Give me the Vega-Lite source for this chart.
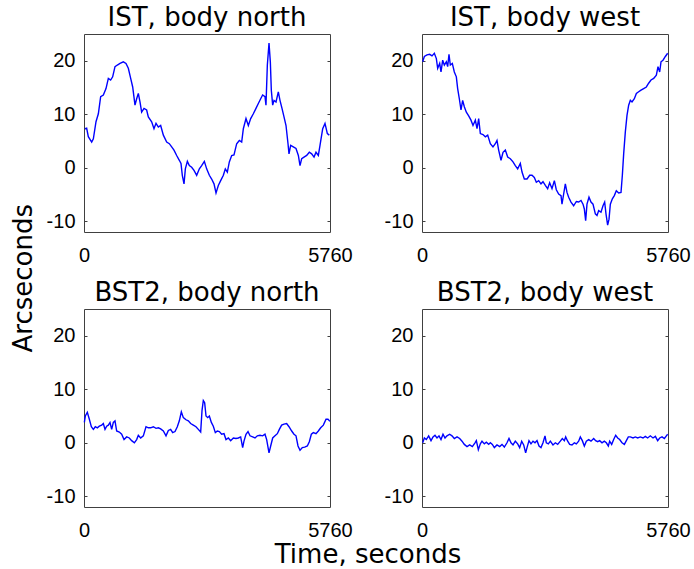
{
  "$schema": "https://vega.github.io/schema/vega-lite/v6.json",
  "background": "white",
  "padding": {"left": 10, "top": 4, "right": 5, "bottom": 4},
  "title": {"text": "Arcseconds", "orient": "left", "anchor": "middle", "font": "DejaVu Sans", "fontSize": 26, "fontWeight": "normal", "color": "black", "offset": 9, "dx": 8},
  "data": {"values": [
    {"panel":"IST, body north","t":23,"v":7.3},{"panel":"IST, body north","t":62,"v":7.4},{"panel":"IST, body north","t":101,"v":5.8},{"panel":"IST, body north","t":180,"v":4.8},{"panel":"IST, body north","t":219,"v":5.4},{"panel":"IST, body north","t":281,"v":8.6},{"panel":"IST, body north","t":336,"v":10.1},{"panel":"IST, body north","t":390,"v":13.3},{"panel":"IST, body north","t":453,"v":13.6},{"panel":"IST, body north","t":515,"v":14.8},{"panel":"IST, body north","t":570,"v":16.7},{"panel":"IST, body north","t":624,"v":16.4},{"panel":"IST, body north","t":671,"v":17},{"panel":"IST, body north","t":726,"v":18.9},{"panel":"IST, body north","t":781,"v":19.2},{"panel":"IST, body north","t":843,"v":19.5},{"panel":"IST, body north","t":921,"v":19.8},{"panel":"IST, body north","t":983,"v":19.5},{"panel":"IST, body north","t":1038,"v":18.6},{"panel":"IST, body north","t":1093,"v":16.7},{"panel":"IST, body north","t":1140,"v":15.1},{"panel":"IST, body north","t":1194,"v":11.7},{"panel":"IST, body north","t":1233,"v":12.9},{"panel":"IST, body north","t":1272,"v":13.9},{"panel":"IST, body north","t":1311,"v":12.3},{"panel":"IST, body north","t":1350,"v":10.4},{"panel":"IST, body north","t":1405,"v":11.1},{"panel":"IST, body north","t":1467,"v":10.8},{"panel":"IST, body north","t":1506,"v":9.5},{"panel":"IST, body north","t":1584,"v":8.6},{"panel":"IST, body north","t":1639,"v":7.3},{"panel":"IST, body north","t":1686,"v":8.3},{"panel":"IST, body north","t":1741,"v":7.6},{"panel":"IST, body north","t":1795,"v":7.9},{"panel":"IST, body north","t":1858,"v":6.1},{"panel":"IST, body north","t":1936,"v":4.8},{"panel":"IST, body north","t":1998,"v":4.5},{"panel":"IST, body north","t":2053,"v":3.9},{"panel":"IST, body north","t":2107,"v":3.3},{"panel":"IST, body north","t":2170,"v":2.3},{"panel":"IST, body north","t":2232,"v":1.4},{"panel":"IST, body north","t":2271,"v":0.8},{"panel":"IST, body north","t":2302,"v":-1.4},{"panel":"IST, body north","t":2342,"v":-3},{"panel":"IST, body north","t":2373,"v":-0.2},{"panel":"IST, body north","t":2420,"v":1.2},{"panel":"IST, body north","t":2466,"v":0.4},{"panel":"IST, body north","t":2521,"v":0.1},{"panel":"IST, body north","t":2576,"v":-0.5},{"panel":"IST, body north","t":2638,"v":-1.4},{"panel":"IST, body north","t":2701,"v":-0.2},{"panel":"IST, body north","t":2755,"v":0.4},{"panel":"IST, body north","t":2818,"v":1.2},{"panel":"IST, body north","t":2872,"v":-0.2},{"panel":"IST, body north","t":2935,"v":-1.4},{"panel":"IST, body north","t":2989,"v":-2.1},{"panel":"IST, body north","t":3044,"v":-3},{"panel":"IST, body north","t":3091,"v":-4.7},{"panel":"IST, body north","t":3145,"v":-3.3},{"panel":"IST, body north","t":3200,"v":-2.4},{"panel":"IST, body north","t":3263,"v":-1.4},{"panel":"IST, body north","t":3309,"v":-0.2},{"panel":"IST, body north","t":3356,"v":-0.8},{"panel":"IST, body north","t":3403,"v":1.1},{"panel":"IST, body north","t":3458,"v":2.3},{"panel":"IST, body north","t":3512,"v":2.4},{"panel":"IST, body north","t":3575,"v":4.5},{"panel":"IST, body north","t":3637,"v":5.1},{"panel":"IST, body north","t":3692,"v":4.8},{"panel":"IST, body north","t":3731,"v":7.3},{"panel":"IST, body north","t":3793,"v":9.2},{"panel":"IST, body north","t":3848,"v":7.9},{"panel":"IST, body north","t":3903,"v":9.2},{"panel":"IST, body north","t":3965,"v":10.1},{"panel":"IST, body north","t":4027,"v":11.1},{"panel":"IST, body north","t":4082,"v":12},{"panel":"IST, body north","t":4137,"v":12.9},{"panel":"IST, body north","t":4183,"v":13.6},{"panel":"IST, body north","t":4238,"v":13.3},{"panel":"IST, body north","t":4261,"v":11.7},{"panel":"IST, body north","t":4293,"v":19.2},{"panel":"IST, body north","t":4332,"v":23.3},{"panel":"IST, body north","t":4363,"v":19.8},{"panel":"IST, body north","t":4386,"v":14.5},{"panel":"IST, body north","t":4418,"v":11.7},{"panel":"IST, body north","t":4449,"v":12.6},{"panel":"IST, body north","t":4496,"v":12.3},{"panel":"IST, body north","t":4550,"v":14.2},{"panel":"IST, body north","t":4589,"v":12.6},{"panel":"IST, body north","t":4636,"v":11.1},{"panel":"IST, body north","t":4683,"v":9.5},{"panel":"IST, body north","t":4730,"v":7.9},{"panel":"IST, body north","t":4777,"v":4.5},{"panel":"IST, body north","t":4800,"v":2.6},{"panel":"IST, body north","t":4839,"v":4.2},{"panel":"IST, body north","t":4901,"v":3.9},{"panel":"IST, body north","t":4964,"v":3.6},{"panel":"IST, body north","t":5019,"v":2.3},{"panel":"IST, body north","t":5058,"v":0.4},{"panel":"IST, body north","t":5097,"v":1.7},{"panel":"IST, body north","t":5151,"v":2},{"panel":"IST, body north","t":5214,"v":2.3},{"panel":"IST, body north","t":5276,"v":2.9},{"panel":"IST, body north","t":5331,"v":2.6},{"panel":"IST, body north","t":5386,"v":2},{"panel":"IST, body north","t":5432,"v":2.9},{"panel":"IST, body north","t":5487,"v":2.3},{"panel":"IST, body north","t":5526,"v":4.2},{"panel":"IST, body north","t":5589,"v":7.3},{"panel":"IST, body north","t":5643,"v":8.3},{"panel":"IST, body north","t":5698,"v":6.4},{"panel":"IST, body north","t":5744,"v":6.1},

    {"panel":"IST, body west","t":16,"v":19.8},{"panel":"IST, body west","t":55,"v":20.8},{"panel":"IST, body west","t":117,"v":21.1},{"panel":"IST, body west","t":180,"v":21.2},{"panel":"IST, body west","t":234,"v":20.9},{"panel":"IST, body west","t":289,"v":21.4},{"panel":"IST, body west","t":336,"v":20.4},{"panel":"IST, body west","t":367,"v":18.6},{"panel":"IST, body west","t":414,"v":19.5},{"panel":"IST, body west","t":445,"v":17.9},{"panel":"IST, body west","t":484,"v":20.1},{"panel":"IST, body west","t":523,"v":19.2},{"panel":"IST, body west","t":570,"v":19.8},{"panel":"IST, body west","t":601,"v":18.9},{"panel":"IST, body west","t":632,"v":21.2},{"panel":"IST, body west","t":663,"v":19.2},{"panel":"IST, body west","t":710,"v":19.5},{"panel":"IST, body west","t":757,"v":17.9},{"panel":"IST, body west","t":804,"v":17},{"panel":"IST, body west","t":835,"v":14.8},{"panel":"IST, body west","t":874,"v":12.9},{"panel":"IST, body west","t":913,"v":10.8},{"panel":"IST, body west","t":952,"v":12.6},{"panel":"IST, body west","t":991,"v":11.4},{"panel":"IST, body west","t":1038,"v":10.4},{"panel":"IST, body west","t":1093,"v":9.7},{"panel":"IST, body west","t":1147,"v":8.9},{"panel":"IST, body west","t":1194,"v":7.9},{"panel":"IST, body west","t":1249,"v":8.9},{"panel":"IST, body west","t":1288,"v":7.3},{"panel":"IST, body west","t":1327,"v":9.2},{"panel":"IST, body west","t":1366,"v":6.4},{"panel":"IST, body west","t":1428,"v":6.2},{"panel":"IST, body west","t":1483,"v":5.8},{"panel":"IST, body west","t":1538,"v":6.1},{"panel":"IST, body west","t":1600,"v":4.5},{"panel":"IST, body west","t":1662,"v":3.9},{"panel":"IST, body west","t":1717,"v":4.5},{"panel":"IST, body west","t":1756,"v":5.1},{"panel":"IST, body west","t":1795,"v":3.3},{"panel":"IST, body west","t":1850,"v":1.4},{"panel":"IST, body west","t":1897,"v":2.9},{"panel":"IST, body west","t":1951,"v":3.3},{"panel":"IST, body west","t":2006,"v":2},{"panel":"IST, body west","t":2068,"v":1.7},{"panel":"IST, body west","t":2131,"v":1.1},{"panel":"IST, body west","t":2185,"v":0.4},{"panel":"IST, body west","t":2240,"v":-0.2},{"panel":"IST, body west","t":2302,"v":0.8},{"panel":"IST, body west","t":2342,"v":-0.8},{"panel":"IST, body west","t":2396,"v":-2.1},{"panel":"IST, body west","t":2459,"v":-2.1},{"panel":"IST, body west","t":2521,"v":-1.4},{"panel":"IST, body west","t":2576,"v":-1.4},{"panel":"IST, body west","t":2630,"v":-1.8},{"panel":"IST, body west","t":2677,"v":-2.7},{"panel":"IST, body west","t":2732,"v":-2.4},{"panel":"IST, body west","t":2786,"v":-3},{"panel":"IST, body west","t":2833,"v":-2.6},{"panel":"IST, body west","t":2888,"v":-3.3},{"panel":"IST, body west","t":2942,"v":-3.9},{"panel":"IST, body west","t":2989,"v":-2.8},{"panel":"IST, body west","t":3044,"v":-3.9},{"panel":"IST, body west","t":3099,"v":-2.4},{"panel":"IST, body west","t":3145,"v":-4.1},{"panel":"IST, body west","t":3200,"v":-4.9},{"panel":"IST, body west","t":3255,"v":-5.2},{"panel":"IST, body west","t":3278,"v":-6.8},{"panel":"IST, body west","t":3317,"v":-4.9},{"panel":"IST, body west","t":3356,"v":-3},{"panel":"IST, body west","t":3395,"v":-4.6},{"panel":"IST, body west","t":3434,"v":-5.5},{"panel":"IST, body west","t":3489,"v":-6.4},{"panel":"IST, body west","t":3551,"v":-7.1},{"panel":"IST, body west","t":3614,"v":-6.3},{"panel":"IST, body west","t":3668,"v":-6.4},{"panel":"IST, body west","t":3723,"v":-6.1},{"panel":"IST, body west","t":3770,"v":-6.8},{"panel":"IST, body west","t":3801,"v":-7.7},{"panel":"IST, body west","t":3832,"v":-9.9},{"panel":"IST, body west","t":3863,"v":-6.8},{"panel":"IST, body west","t":3910,"v":-5.5},{"panel":"IST, body west","t":3957,"v":-6.4},{"panel":"IST, body west","t":4004,"v":-6.8},{"panel":"IST, body west","t":4059,"v":-8.6},{"panel":"IST, body west","t":4098,"v":-8.9},{"panel":"IST, body west","t":4137,"v":-8},{"panel":"IST, body west","t":4191,"v":-8.3},{"panel":"IST, body west","t":4238,"v":-7.1},{"panel":"IST, body west","t":4277,"v":-6.4},{"panel":"IST, body west","t":4308,"v":-8.6},{"panel":"IST, body west","t":4347,"v":-10.7},{"panel":"IST, body west","t":4379,"v":-9.6},{"panel":"IST, body west","t":4410,"v":-6.8},{"panel":"IST, body west","t":4457,"v":-5.8},{"panel":"IST, body west","t":4503,"v":-5.2},{"panel":"IST, body west","t":4550,"v":-4.3},{"panel":"IST, body west","t":4605,"v":-4.7},{"panel":"IST, body west","t":4660,"v":-4.6},{"panel":"IST, body west","t":4691,"v":-1.4},{"panel":"IST, body west","t":4722,"v":2.6},{"panel":"IST, body west","t":4761,"v":6.7},{"panel":"IST, body west","t":4800,"v":9.8},{"panel":"IST, body west","t":4839,"v":11.7},{"panel":"IST, body west","t":4878,"v":12.6},{"panel":"IST, body west","t":4917,"v":12.3},{"panel":"IST, body west","t":4972,"v":12.9},{"panel":"IST, body west","t":5019,"v":13.9},{"panel":"IST, body west","t":5073,"v":14.2},{"panel":"IST, body west","t":5128,"v":14.5},{"panel":"IST, body west","t":5190,"v":14.8},{"panel":"IST, body west","t":5253,"v":15.1},{"panel":"IST, body west","t":5307,"v":15.8},{"panel":"IST, body west","t":5362,"v":16.4},{"panel":"IST, body west","t":5425,"v":16.7},{"panel":"IST, body west","t":5487,"v":17.3},{"panel":"IST, body west","t":5526,"v":18.9},{"panel":"IST, body west","t":5565,"v":17.9},{"panel":"IST, body west","t":5596,"v":19.8},{"panel":"IST, body west","t":5643,"v":20.1},{"panel":"IST, body west","t":5698,"v":20.8},{"panel":"IST, body west","t":5752,"v":21.4},

    {"panel":"BST2, body north","t":8,"v":3.8},{"panel":"BST2, body north","t":31,"v":5},{"panel":"BST2, body north","t":78,"v":5.7},{"panel":"BST2, body north","t":125,"v":4.4},{"panel":"BST2, body north","t":172,"v":3},{"panel":"BST2, body north","t":219,"v":2.5},{"panel":"BST2, body north","t":265,"v":3},{"panel":"BST2, body north","t":312,"v":2.8},{"panel":"BST2, body north","t":359,"v":3.1},{"panel":"BST2, body north","t":414,"v":3.3},{"panel":"BST2, body north","t":453,"v":3.6},{"panel":"BST2, body north","t":492,"v":2.5},{"panel":"BST2, body north","t":531,"v":3.1},{"panel":"BST2, body north","t":570,"v":3.3},{"panel":"BST2, body north","t":609,"v":3.8},{"panel":"BST2, body north","t":648,"v":2.5},{"panel":"BST2, body north","t":687,"v":3.8},{"panel":"BST2, body north","t":726,"v":4.1},{"panel":"BST2, body north","t":765,"v":2.2},{"panel":"BST2, body north","t":827,"v":2},{"panel":"BST2, body north","t":882,"v":1.6},{"panel":"BST2, body north","t":937,"v":0.6},{"panel":"BST2, body north","t":999,"v":1.1},{"panel":"BST2, body north","t":1061,"v":0.9},{"panel":"BST2, body north","t":1116,"v":0.4},{"panel":"BST2, body north","t":1179,"v":0},{"panel":"BST2, body north","t":1233,"v":0.6},{"panel":"BST2, body north","t":1272,"v":1.4},{"panel":"BST2, body north","t":1327,"v":0.9},{"panel":"BST2, body north","t":1389,"v":1.3},{"panel":"BST2, body north","t":1452,"v":3},{"panel":"BST2, body north","t":1506,"v":2.8},{"panel":"BST2, body north","t":1561,"v":2.8},{"panel":"BST2, body north","t":1623,"v":3},{"panel":"BST2, body north","t":1686,"v":2.7},{"panel":"BST2, body north","t":1741,"v":2.8},{"panel":"BST2, body north","t":1795,"v":2.6},{"panel":"BST2, body north","t":1858,"v":2.2},{"panel":"BST2, body north","t":1920,"v":1.3},{"panel":"BST2, body north","t":1975,"v":2.3},{"panel":"BST2, body north","t":2029,"v":2.5},{"panel":"BST2, body north","t":2076,"v":1.9},{"panel":"BST2, body north","t":2131,"v":2.1},{"panel":"BST2, body north","t":2185,"v":3},{"panel":"BST2, body north","t":2232,"v":4.1},{"panel":"BST2, body north","t":2279,"v":5.8},{"panel":"BST2, body north","t":2326,"v":4.7},{"panel":"BST2, body north","t":2388,"v":4.3},{"panel":"BST2, body north","t":2443,"v":4.1},{"panel":"BST2, body north","t":2498,"v":3.6},{"panel":"BST2, body north","t":2560,"v":3.3},{"panel":"BST2, body north","t":2622,"v":3},{"panel":"BST2, body north","t":2677,"v":2.5},{"panel":"BST2, body north","t":2732,"v":2},{"panel":"BST2, body north","t":2763,"v":6},{"panel":"BST2, body north","t":2794,"v":7.9},{"panel":"BST2, body north","t":2825,"v":7.5},{"panel":"BST2, body north","t":2857,"v":5},{"panel":"BST2, body north","t":2896,"v":4.7},{"panel":"BST2, body north","t":2935,"v":5},{"panel":"BST2, body north","t":2982,"v":3.8},{"panel":"BST2, body north","t":3028,"v":3.1},{"panel":"BST2, body north","t":3075,"v":1.9},{"panel":"BST2, body north","t":3122,"v":2.2},{"panel":"BST2, body north","t":3169,"v":2.1},{"panel":"BST2, body north","t":3223,"v":1.6},{"panel":"BST2, body north","t":3278,"v":1.7},{"panel":"BST2, body north","t":3325,"v":0.6},{"panel":"BST2, body north","t":3380,"v":0.9},{"panel":"BST2, body north","t":3434,"v":0.4},{"panel":"BST2, body north","t":3497,"v":0.9},{"panel":"BST2, body north","t":3559,"v":0.8},{"panel":"BST2, body north","t":3614,"v":0.9},{"panel":"BST2, body north","t":3668,"v":1.1},{"panel":"BST2, body north","t":3715,"v":-0.9},{"panel":"BST2, body north","t":3746,"v":0.3},{"panel":"BST2, body north","t":3793,"v":1.6},{"panel":"BST2, body north","t":3840,"v":2.1},{"panel":"BST2, body north","t":3887,"v":1.3},{"panel":"BST2, body north","t":3949,"v":1.1},{"panel":"BST2, body north","t":4004,"v":0.9},{"panel":"BST2, body north","t":4059,"v":1.3},{"panel":"BST2, body north","t":4121,"v":1.4},{"panel":"BST2, body north","t":4183,"v":1.3},{"panel":"BST2, body north","t":4238,"v":1.6},{"panel":"BST2, body north","t":4277,"v":0.6},{"panel":"BST2, body north","t":4332,"v":-1.9},{"panel":"BST2, body north","t":4371,"v":-0.6},{"panel":"BST2, body north","t":4418,"v":0.9},{"panel":"BST2, body north","t":4472,"v":1.3},{"panel":"BST2, body north","t":4527,"v":1.7},{"panel":"BST2, body north","t":4574,"v":2.5},{"panel":"BST2, body north","t":4628,"v":3.3},{"panel":"BST2, body north","t":4683,"v":3.5},{"panel":"BST2, body north","t":4745,"v":3.6},{"panel":"BST2, body north","t":4800,"v":3},{"panel":"BST2, body north","t":4863,"v":2.2},{"panel":"BST2, body north","t":4917,"v":1.6},{"panel":"BST2, body north","t":4964,"v":1.3},{"panel":"BST2, body north","t":5011,"v":-0.6},{"panel":"BST2, body north","t":5058,"v":-1.4},{"panel":"BST2, body north","t":5112,"v":-0.9},{"panel":"BST2, body north","t":5167,"v":-0.8},{"panel":"BST2, body north","t":5229,"v":-0.6},{"panel":"BST2, body north","t":5276,"v":0.2},{"panel":"BST2, body north","t":5323,"v":1.6},{"panel":"BST2, body north","t":5370,"v":1.9},{"panel":"BST2, body north","t":5432,"v":1.7},{"panel":"BST2, body north","t":5487,"v":2.2},{"panel":"BST2, body north","t":5542,"v":2.8},{"panel":"BST2, body north","t":5604,"v":3.3},{"panel":"BST2, body north","t":5667,"v":4.4},{"panel":"BST2, body north","t":5713,"v":4.4},{"panel":"BST2, body north","t":5760,"v":4},

    {"panel":"BST2, body west","t":16,"v":0},{"panel":"BST2, body west","t":55,"v":0.9},{"panel":"BST2, body west","t":101,"v":0.6},{"panel":"BST2, body west","t":156,"v":1.3},{"panel":"BST2, body west","t":211,"v":0.4},{"panel":"BST2, body west","t":258,"v":1.1},{"panel":"BST2, body west","t":304,"v":1.4},{"panel":"BST2, body west","t":351,"v":0.9},{"panel":"BST2, body west","t":398,"v":1.3},{"panel":"BST2, body west","t":445,"v":0.6},{"panel":"BST2, body west","t":492,"v":1.6},{"panel":"BST2, body west","t":539,"v":0.9},{"panel":"BST2, body west","t":585,"v":1.3},{"panel":"BST2, body west","t":648,"v":1.6},{"panel":"BST2, body west","t":702,"v":1.3},{"panel":"BST2, body west","t":757,"v":0.8},{"panel":"BST2, body west","t":820,"v":1.1},{"panel":"BST2, body west","t":882,"v":0.8},{"panel":"BST2, body west","t":937,"v":0.3},{"panel":"BST2, body west","t":991,"v":-0.3},{"panel":"BST2, body west","t":1054,"v":-0.7},{"panel":"BST2, body west","t":1116,"v":-0.4},{"panel":"BST2, body west","t":1179,"v":-0.7},{"panel":"BST2, body west","t":1241,"v":0},{"panel":"BST2, body west","t":1272,"v":0.4},{"panel":"BST2, body west","t":1319,"v":-1.3},{"panel":"BST2, body west","t":1366,"v":-0.2},{"panel":"BST2, body west","t":1405,"v":0.3},{"panel":"BST2, body west","t":1460,"v":-0.2},{"panel":"BST2, body west","t":1506,"v":0.1},{"panel":"BST2, body west","t":1561,"v":-0.3},{"panel":"BST2, body west","t":1600,"v":0},{"panel":"BST2, body west","t":1647,"v":-0.3},{"panel":"BST2, body west","t":1694,"v":-0.9},{"panel":"BST2, body west","t":1756,"v":-0.4},{"panel":"BST2, body west","t":1819,"v":-0.7},{"panel":"BST2, body west","t":1873,"v":-0.3},{"panel":"BST2, body west","t":1928,"v":-0.8},{"panel":"BST2, body west","t":1990,"v":0},{"panel":"BST2, body west","t":2037,"v":0.8},{"panel":"BST2, body west","t":2084,"v":0},{"panel":"BST2, body west","t":2131,"v":-0.4},{"panel":"BST2, body west","t":2185,"v":0.3},{"panel":"BST2, body west","t":2240,"v":-0.2},{"panel":"BST2, body west","t":2287,"v":-0.9},{"panel":"BST2, body west","t":2334,"v":0.3},{"panel":"BST2, body west","t":2381,"v":-0.4},{"panel":"BST2, body west","t":2427,"v":-1.9},{"panel":"BST2, body west","t":2459,"v":-0.9},{"panel":"BST2, body west","t":2505,"v":0.4},{"panel":"BST2, body west","t":2552,"v":-0.2},{"panel":"BST2, body west","t":2599,"v":0.3},{"panel":"BST2, body west","t":2646,"v":0},{"panel":"BST2, body west","t":2693,"v":0.4},{"panel":"BST2, body west","t":2740,"v":-0.6},{"panel":"BST2, body west","t":2786,"v":-0.9},{"panel":"BST2, body west","t":2833,"v":0},{"panel":"BST2, body west","t":2880,"v":1.3},{"panel":"BST2, body west","t":2911,"v":0},{"panel":"BST2, body west","t":2958,"v":-0.2},{"panel":"BST2, body west","t":3005,"v":0.3},{"panel":"BST2, body west","t":3067,"v":-0.4},{"panel":"BST2, body west","t":3122,"v":0},{"panel":"BST2, body west","t":3177,"v":-0.3},{"panel":"BST2, body west","t":3239,"v":0.3},{"panel":"BST2, body west","t":3286,"v":0.8},{"panel":"BST2, body west","t":3333,"v":0.4},{"panel":"BST2, body west","t":3364,"v":1.1},{"panel":"BST2, body west","t":3411,"v":0.3},{"panel":"BST2, body west","t":3458,"v":-0.3},{"panel":"BST2, body west","t":3512,"v":-0.4},{"panel":"BST2, body west","t":3567,"v":0},{"panel":"BST2, body west","t":3614,"v":-0.2},{"panel":"BST2, body west","t":3668,"v":0.3},{"panel":"BST2, body west","t":3707,"v":1.1},{"panel":"BST2, body west","t":3754,"v":0.4},{"panel":"BST2, body west","t":3801,"v":-0.6},{"panel":"BST2, body west","t":3848,"v":0.3},{"panel":"BST2, body west","t":3903,"v":0.6},{"panel":"BST2, body west","t":3957,"v":0.3},{"panel":"BST2, body west","t":4020,"v":0.8},{"panel":"BST2, body west","t":4066,"v":0.4},{"panel":"BST2, body west","t":4113,"v":0.2},{"panel":"BST2, body west","t":4160,"v":0.4},{"panel":"BST2, body west","t":4215,"v":0},{"panel":"BST2, body west","t":4269,"v":0.3},{"panel":"BST2, body west","t":4316,"v":0},{"panel":"BST2, body west","t":4363,"v":-0.6},{"panel":"BST2, body west","t":4394,"v":0.3},{"panel":"BST2, body west","t":4441,"v":-0.3},{"panel":"BST2, body west","t":4488,"v":0.6},{"panel":"BST2, body west","t":4535,"v":1.4},{"panel":"BST2, body west","t":4582,"v":0.9},{"panel":"BST2, body west","t":4628,"v":0.6},{"panel":"BST2, body west","t":4683,"v":0},{"panel":"BST2, body west","t":4738,"v":-0.3},{"panel":"BST2, body west","t":4785,"v":0.4},{"panel":"BST2, body west","t":4831,"v":1.1},{"panel":"BST2, body west","t":4878,"v":1.1},{"panel":"BST2, body west","t":4941,"v":0.9},{"panel":"BST2, body west","t":4995,"v":1.1},{"panel":"BST2, body west","t":5050,"v":0.9},{"panel":"BST2, body west","t":5112,"v":1.1},{"panel":"BST2, body west","t":5175,"v":0.9},{"panel":"BST2, body west","t":5229,"v":1.2},{"panel":"BST2, body west","t":5284,"v":0.9},{"panel":"BST2, body west","t":5346,"v":1.3},{"panel":"BST2, body west","t":5409,"v":0.9},{"panel":"BST2, body west","t":5464,"v":1.2},{"panel":"BST2, body west","t":5518,"v":0.4},{"panel":"BST2, body west","t":5565,"v":0.9},{"panel":"BST2, body west","t":5620,"v":1.1},{"panel":"BST2, body west","t":5675,"v":0.8},{"panel":"BST2, body west","t":5722,"v":1.3},{"panel":"BST2, body west","t":5752,"v":1.6}
  ]},
  "facet": {
    "field": "panel",
    "type": "nominal",
    "sort": ["IST, body north", "IST, body west", "BST2, body north", "BST2, body west"],
    "title": "Time, seconds",
    "header": {
      "labelOrient": "top",
      "labelFont": "DejaVu Sans",
      "labelFontSize": 26,
      "labelColor": "black",
      "labelBaseline": "alphabetic",
      "labelPadding": -18,
      "titleOrient": "bottom",
      "titleFont": "DejaVu Sans",
      "titleFontSize": 26,
      "titleFontWeight": "normal",
      "titleColor": "black",
      "titlePadding": 35
    }
  },
  "columns": 2,
  "spacing": {"column": 92, "row": 77},
  "bounds": "flush",
  "resolve": {"axis": {"x": "independent", "y": "independent"}},
  "spec": {
    "width": 246,
    "height": 198,
    "encoding": {
      "x": {
        "field": "t",
        "type": "quantitative",
        "scale": {"domain": [0, 5760], "nice": false, "zero": false},
        "axis": {"title": null, "values": [0, 5760], "labelFlush": false, "ticks": false, "labelPadding": 13, "labelExpr": "datum.value + ''"}
      },
      "y": {
        "field": "v",
        "type": "quantitative",
        "scale": {"domain": [-12, 25], "nice": false, "zero": false}
      }
    },
    "layer": [
      {
        "mark": {"type": "line", "color": "#0000ff", "strokeWidth": 1.4},
        "encoding": {
          "y": {"field": "v", "type": "quantitative", "axis": {"title": null, "values": [-10, 0, 10, 20], "tickSize": -3, "labelPadding": 12, "labelExpr": "datum.value + ''"}}
        }
      },
      {
        "mark": {"type": "line", "strokeOpacity": 0},
        "encoding": {
          "y": {"field": "v", "type": "quantitative", "axis": {"orient": "right", "title": null, "values": [-10, 0, 10, 20], "tickSize": -3, "labels": false}}
        }
      }
    ],
    "resolve": {"axis": {"y": "independent"}}
  },
  "config": {
    "view": {"stroke": "#404040", "strokeWidth": 1},
    "axis": {
      "grid": false,
      "domain": false,
      "tickColor": "#404040",
      "labelFont": "Liberation Sans",
      "labelFontSize": 20,
      "labelColor": "black"
    }
  }
}
